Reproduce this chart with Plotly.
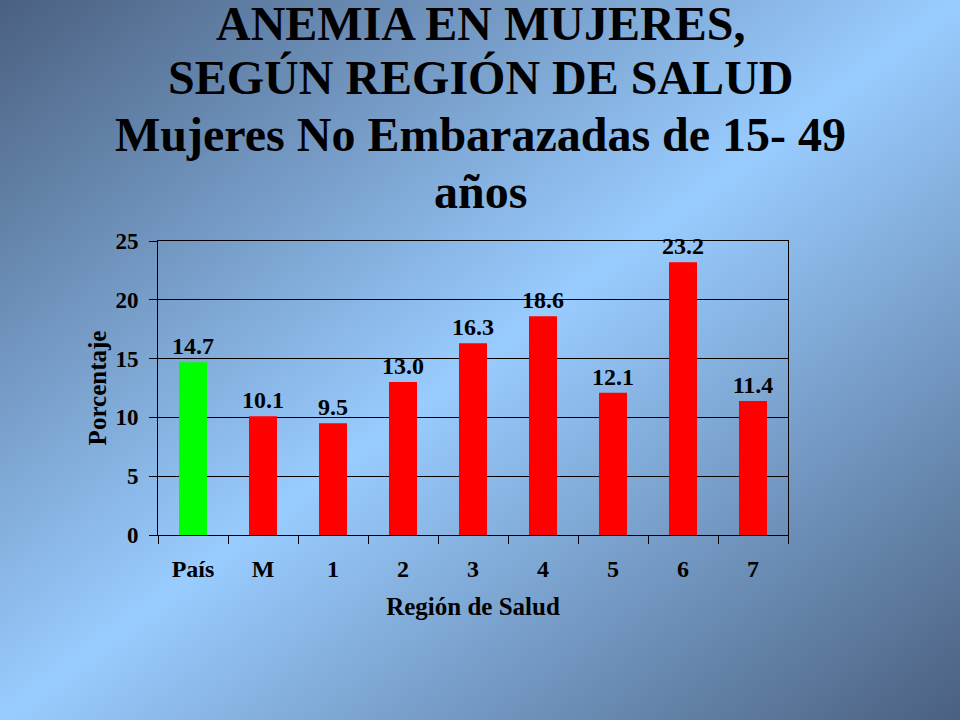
import base64
import plotly.graph_objects as go

# ---- data ----
categories = ["País", "M", "1", "2", "3", "4", "5", "6", "7"]
values = [14.7, 10.1, 9.5, 13.0, 16.3, 18.6, 12.1, 23.2, 11.4]
bar_colors = ["#00ff00"] + ["#ff0000"] * 8
title_lines = [
    "ANEMIA EN MUJERES,",
    "SEGÚN REGIÓN DE SALUD",
    "Mujeres No Embarazadas de 15- 49",
    "años",
]
y_ticks = [0, 5, 10, 15, 20, 25]

W, H = 960, 720
L, R, T, B = 158, 172, 241, 185
pw, ph = W - L - R, H - T - B

FONT = "Liberation Serif"

svg = (
    '<svg xmlns="http://www.w3.org/2000/svg" width="960" height="720" preserveAspectRatio="none">'
    '<defs><linearGradient id="g" x1="0" y1="0" x2="1" y2="1">'
    '<stop offset="0" stop-color="#4a6080"/>'
    '<stop offset="0.5" stop-color="#99ccff"/>'
    '<stop offset="1" stop-color="#4a6080"/>'
    '</linearGradient></defs>'
    '<rect width="960" height="720" fill="url(#g)"/></svg>'
)
svg_uri = "data:image/svg+xml;base64," + base64.b64encode(svg.encode()).decode()

fig = go.Figure(
    go.Bar(
        x=categories,
        y=values,
        marker=dict(color=bar_colors, line=dict(width=0)),
        width=0.4,
        texttemplate="<b>%{y:.1f}</b>",
        textposition="outside",
        constraintext="none",
        textfont=dict(family=FONT, size=24, color="black"),
        cliponaxis=False,
        hoverinfo="skip",
    )
)

def py(ypix):
    return (H - B - ypix) / ph

annotations = []
centers = [23, 77, 134, 191]
for txt, c in zip(title_lines, centers):
    annotations.append(dict(
        text="<b>%s</b>" % txt, x=0.5 * W / pw - L / pw, xref="paper",
        y=py(c), yref="paper", xanchor="center", yanchor="middle",
        showarrow=False, font=dict(family=FONT, size=48, color="black"),
    ))

fig.update_layout(
    width=W, height=H,
    margin=dict(l=L, r=R, t=T, b=B, pad=0),
    paper_bgcolor="#80a8d8",
    plot_bgcolor="rgba(0,0,0,0)",
    showlegend=False,
    annotations=annotations,
    images=[dict(
        source=svg_uri, xref="paper", yref="paper",
        x=-L / pw, y=1 + T / ph, sizex=W / pw, sizey=H / ph,
        xanchor="left", yanchor="top", sizing="stretch", layer="below",
    )],
    font=dict(family=FONT, color="black"),
)

fig.update_xaxes(
    type="category",
    tickvals=categories,
    ticktext=["<b>%s</b>" % c for c in categories],
    showline=True, linecolor="black", linewidth=1, mirror=True,
    ticks="outside", tickson="boundaries", ticklen=8, tickcolor="black",
    ticklabelstandoff=12,
    tickfont=dict(family=FONT, size=24, color="black"),
    title=dict(text="<b>Región de Salud</b>", font=dict(family=FONT, size=25, color="black"), standoff=16),
    showgrid=False,
)
fig.update_yaxes(
    range=[0, 25], tickvals=y_ticks,
    ticktext=["<b>%d</b>" % v for v in y_ticks],
    showline=True, linecolor="black", linewidth=1, mirror=True,
    ticks="outside", ticklen=8, tickcolor="black",
    ticklabelstandoff=6,
    tickfont=dict(family=FONT, size=23, color="black"),
    showgrid=True, gridcolor="black", gridwidth=1,
    zeroline=False,
    title=dict(text="<b>Porcentaje</b>", font=dict(family=FONT, size=25, color="black"), standoff=1),
)

fig.write_html(
    "out.html",
    config={"displayModeBar": False},
    post_script="document.body.style.margin='0';document.body.style.overflow='hidden';",
)
